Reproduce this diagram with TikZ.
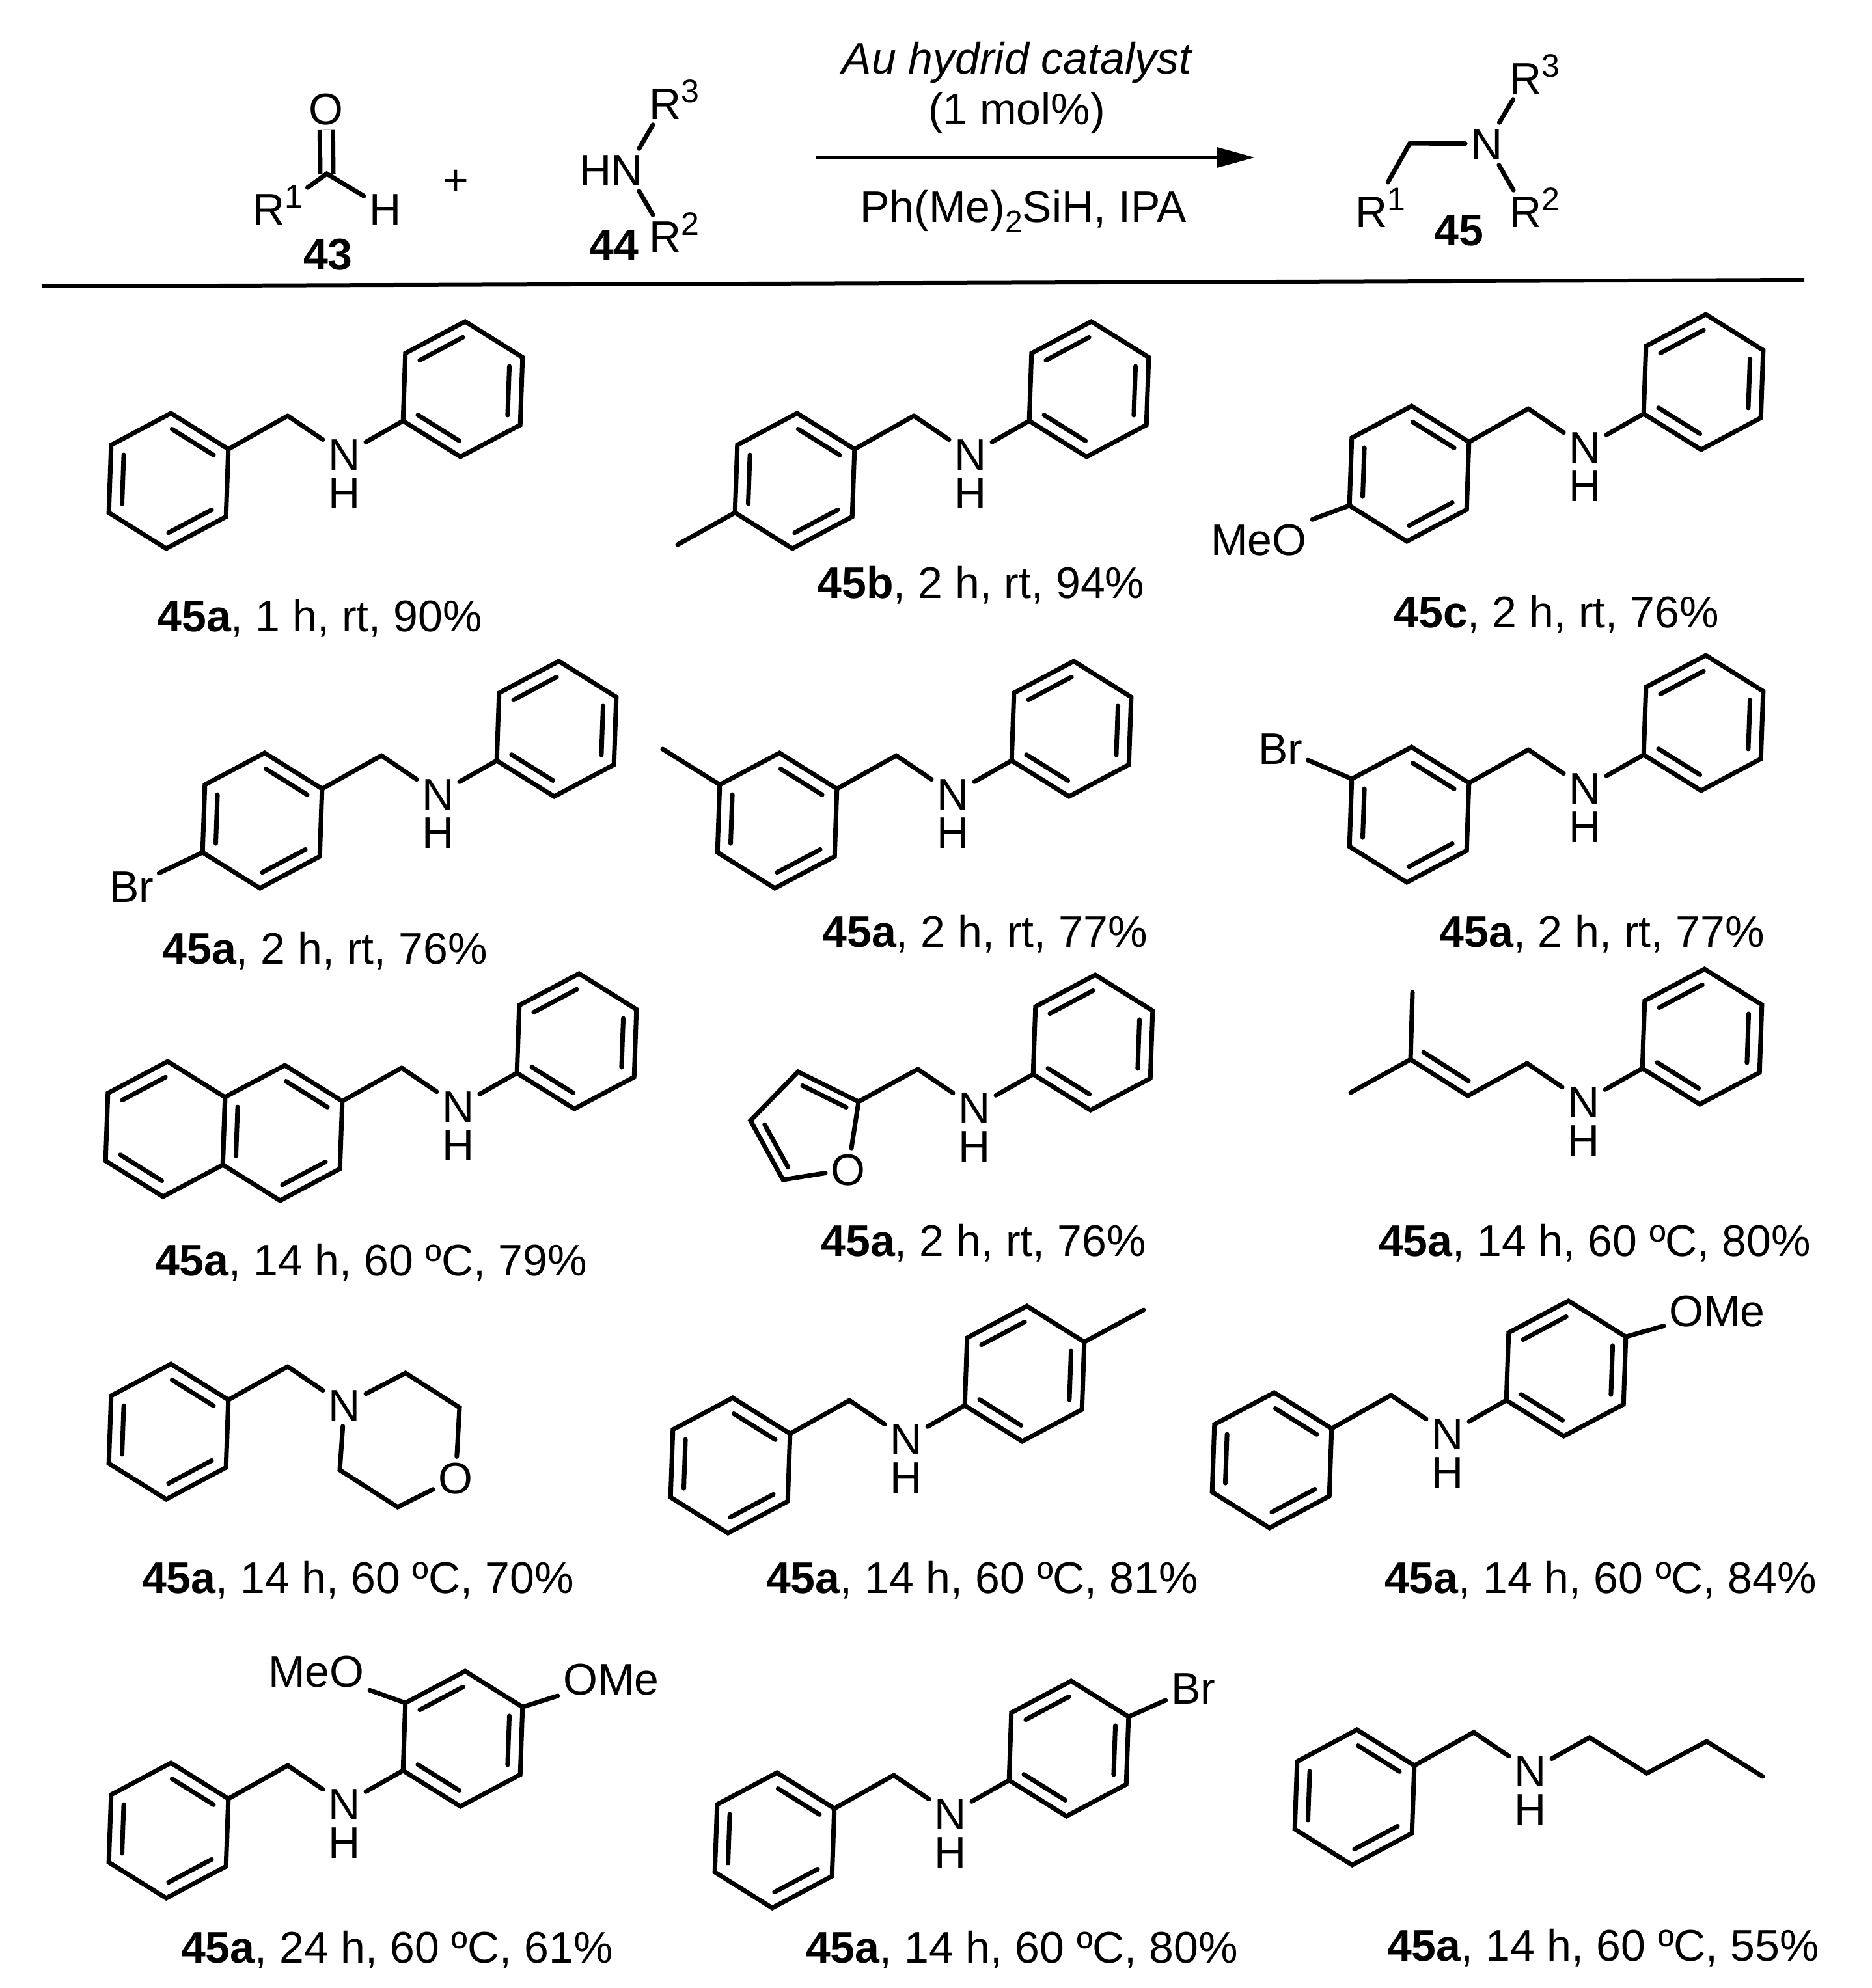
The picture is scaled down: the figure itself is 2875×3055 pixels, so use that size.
\documentclass[tikz,border=0pt]{standalone}
\usepackage{fontspec}
\setmainfont{Liberation Sans}
\usetikzlibrary{arrows.meta,calc,positioning}

\tikzset{
  bond/.style={line width=3.5pt,line join=miter,line cap=round},
  inner/.style={bond,shorten >=1.5pt,shorten <=1.5pt},
  atom/.style={font=\fontsize{34}{40}\selectfont,inner sep=4pt,text height=24.3pt,text depth=0pt},
  hatom/.style={atom,inner sep=0pt},
  txt/.style={font=\fontsize{34}{40}\selectfont,inner sep=0pt,text height=24.3pt,text depth=0pt},
  num/.style={txt,font=\fontsize{34}{40}\selectfont\bfseries},
}
\newcommand{\supr}[1]{\raisebox{13pt}{\fontsize{25}{25}\selectfont #1}}
\newcommand{\rsub}[1]{R\rlap{\supr{#1}}}

% ring: name, centre, edges with a double bond
\newcommand{\ringat}[3]{
  \coordinate (#1c) at (#2);
  \foreach \i in {1,...,6}
    \path (#1c) ++({-148+60*\i}:104) coordinate (#1\i);
  \draw[bond] (#11) -- (#12) -- (#13) -- (#14) -- (#15) -- (#16) -- cycle;
  \foreach \i in {#3}{
    \pgfmathtruncatemacro\nxt{mod(\i,6)+1}
    \draw[inner] ($(#1c)!.78!(#1\i)$) -- ($(#1c)!.78!(#1\nxt)$);
  }
}
% CH2 and N, placed from the centre of the left ring
\newcommand{\arm}[2]{
  \coordinate (#1ch) at ($(#2)+(183,-100)$);
  \node[atom] (#1n) at ($(#2)+(270,-41)$) {N};
  \draw[bond] (#1ch) -- (#1n);
}
\newcommand{\benzyl}[2]{
  \ringat{#1}{#2}{1,3,5}
  \arm{#1}{#2}
  \draw[bond] (#12) -- (#1ch);
}
\newcommand{\anilino}[2]{
  \node[hatom,below=.7pt of #1n] (#1h) {H};
  \ringat{#1b}{$(#2)+(452,-141)$}{2,4,6}
  \draw[bond] (#1n) -- (#1b5);
}

\begin{document}
\begin{tikzpicture}[x=.5pt,y=-.5pt]
  \useasboundingbox (0,0) rectangle (2875,3055);

  % aldehyde
  \node[atom] (ao) at (501,167) {O};
  \coordinate (ac) at (502,267);
  \node[atom] (ar) at (427,321) {R\supr{1}};
  \node[atom] (ah) at (592,321) {H};
  \node[num] (n43) at (504,390) {43};
  \draw[bond,line cap=butt,double,double distance=6.5pt] (ao) -- (ac);
  \draw[bond] (ar) -- (ac) -- (ah);
  \node[txt] (plus) at (700,276) {+};

  % amine
  \node[hatom] (h44) at (915,261) {H};
  \node[atom] (n44) at (963,261) {N};
  \node[atom] (r44a) at (1022,159) {\rsub{3}};
  \node[atom] (r44b) at (1022,363) {\rsub{2}};
  \node[num] (l44) at (943,376) {44};
  \draw[bond] (n44) -- (r44a);
  \draw[bond] (n44) -- (r44b);

  % arrow
  \coordinate (arrs) at (1254,242);
  \coordinate (arre) at (1928,242);
  \draw[line width=3pt,-{Triangle[length=29pt,width=15pt]}] (arrs) -- (arre);
  \node[txt,font=\fontsize{34}{40}\selectfont\itshape] (cat) at (1562,89) {Au hydrid catalyst};
  \node[txt] (mol) at (1562,167) {(1 mol\%)};
  \node[txt] (sil) at (1572,317) {Ph(Me)\raisebox{-8pt}{\fontsize{24}{24}\selectfont 2}SiH, IPA};

  % product
  \node[atom] (pn) at (2284,221) {N};
  \coordinate (pc) at (2166,220);
  \node[atom] (pr1) at (2107,325) {\rsub{1}};
  \node[atom] (pr2) at (2344,325) {\rsub{2}};
  \node[atom] (pr3) at (2344,120) {\rsub{3}};
  \node[num] (l45) at (2241,353) {45};
  \draw[bond] (pc) -- (pn);
  \draw[bond,shorten >=7pt] (pc) -- (pr1);
  \draw[bond] (pn) -- (pr3);
  \draw[bond] (pn) -- (pr2);

  % rule
  \coordinate (rl) at (64,440);
  \coordinate (rr) at (2772,430);
  \draw[line width=3pt] (rl) -- (rr);

  % row 1
  \benzyl{a}{259,739}
  \anilino{a}{259,739}
  \node[txt] (capa) at (491,946) {\textbf{45a}, 1 h, rt, 90\%};

  \benzyl{b}{1221,739}
  \anilino{b}{1221,739}
  \coordinate (bme) at (1041,837);
  \draw[bond] (b5) -- (bme);
  \node[txt] (capb) at (1507,895) {\textbf{45b}, 2 h, rt, 94\%};

  \benzyl{c}{2165,728}
  \anilino{c}{2165,728}
  \node[atom] (cmeo) at (1934,829) {MeO};
  \draw[bond] (c5) -- (cmeo);
  \node[txt] (capc) at (2391,940) {\textbf{45c}, 2 h, rt, 76\%};

  % row 2
  \benzyl{d}{403,1261}
  \anilino{d}{403,1261}
  \node[atom] (dbr) at (202,1362) {Br};
  \draw[bond] (d5) -- (dbr);
  \node[txt] (capd) at (499,1457) {\textbf{45a}, 2 h, rt, 76\%};

  \benzyl{e}{1194,1261}
  \anilino{e}{1194,1261}
  \coordinate (eme) at (1018,1151);
  \draw[bond] (e6) -- (eme);
  \node[txt] (cape) at (1513,1431) {\textbf{45a}, 2 h, rt, 77\%};

  \benzyl{f}{2165,1252}
  \anilino{f}{2165,1252}
  \node[atom] (fbr) at (1967,1150) {Br};
  \draw[bond] (f6) -- (fbr);
  \node[txt] (capf) at (2461,1431) {\textbf{45a}, 2 h, rt, 77\%};

  % row 3
  \benzyl{g}{434,1741}
  \anilino{g}{434,1741}
  \ringat{gl}{254,1735}{4,6}
  \node[txt] (capg) at (570,1936) {\textbf{45a}, 14 h, 60 ºC, 79\%};

  \arm{h}{1227,1743}
  \anilino{h}{1227,1743}
  \coordinate (hfc) at (1245,1738);
  \coordinate (hf2) at (1319,1693);
  \coordinate (hf3) at (1226,1647);
  \coordinate (hf4) at (1153,1722);
  \coordinate (hf5) at (1203,1813);
  \node[atom] (hfo) at (1303,1797) {O};
  \draw[bond] (hch) -- (hf2) -- (hf3) -- (hf4) -- (hf5) -- (hfo) -- (hf2);
  \draw[inner] ($(hfc)!.78!(hf2)$) -- ($(hfc)!.78!(hf3)$);
  \draw[inner] ($(hfc)!.78!(hf4)$) -- ($(hfc)!.78!(hf5)$);
  \node[txt] (caph) at (1511,1906) {\textbf{45a}, 2 h, rt, 76\%};

  \arm{i}{2163,1734}
  \anilino{i}{2163,1734}
  \coordinate (ic1) at (2167,1628);
  \coordinate (ic2) at (2255,1684);
  \coordinate (ime1) at (2170,1525);
  \coordinate (ime2) at (2075,1679);
  \coordinate (id1) at (2187,1617);
  \coordinate (id2) at (2256,1661);
  \draw[bond] (ime1) -- (ic1) -- (ic2) -- (ich);
  \draw[bond] (ime2) -- (ic1);
  \draw[bond] (id1) -- (id2);
  \node[txt] (capi) at (2450,1906) {\textbf{45a}, 14 h, 60 ºC, 80\%};

  % row 4
  \benzyl{j}{259,2200}
  \coordinate (jm1) at (623,2110);
  \coordinate (jm2) at (706,2163);
  \node[atom] (jo) at (700,2271) {O};
  \coordinate (jm3) at (611,2316);
  \coordinate (jm4) at (522,2259);
  \draw[bond] (jn) -- (jm1) -- (jm2) -- (jo) -- (jm3) -- (jm4) -- (jn);
  \node[txt] (capj) at (550,2424) {\textbf{45a}, 14 h, 60 ºC, 70\%};

  \benzyl{k}{1122,2252}
  \anilino{k}{1122,2252}
  \coordinate (kme) at (1757,2013);
  \draw[bond] (kb2) -- (kme);
  \node[txt] (capk) at (1509,2424) {\textbf{45a}, 14 h, 60 ºC, 81\%};

  \benzyl{l}{1954,2244}
  \anilino{l}{1954,2244}
  \node[atom] (lome) at (2638,2014) {OMe};
  \draw[bond] (lb2) -- (lome);
  \node[txt] (capl) at (2459,2424) {\textbf{45a}, 14 h, 60 ºC, 84\%};

  % row 5
  \benzyl{m}{259,2813}
  \anilino{m}{259,2813}
  \node[atom] (mmeo) at (486,2568) {MeO};
  \node[atom] (mome) at (939,2580) {OMe};
  \draw[bond] (mb6) -- (mmeo);
  \draw[bond] (mb2) -- (mome);
  \node[txt] (capm) at (610,2992) {\textbf{45a}, 24 h, 60 ºC, 61\%};

  \benzyl{n}{1190,2828}
  \anilino{n}{1190,2828}
  \node[atom] (nbr) at (1833,2594) {Br};
  \draw[bond] (nb2) -- (nbr);
  \node[txt] (capn) at (1570,2992) {\textbf{45a}, 14 h, 60 ºC, 80\%};

  \benzyl{o}{2081,2762}
  \node[hatom,below=.7pt of on] (oh) {H};
  \coordinate (oc1) at (2442,2670);
  \coordinate (oc2) at (2530,2725);
  \coordinate (oc3) at (2622,2676);
  \coordinate (oc4) at (2708,2730);
  \draw[bond] (on) -- (oc1) -- (oc2) -- (oc3) -- (oc4);
  \node[txt] (capo) at (2463,2989) {\textbf{45a}, 14 h, 60 ºC, 55\%};
\end{tikzpicture}
\end{document}
